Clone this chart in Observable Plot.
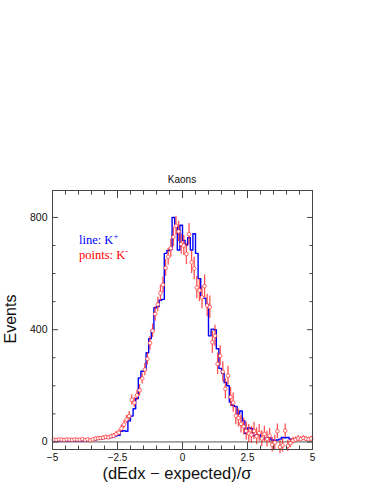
<!DOCTYPE html>
<html><head><meta charset="utf-8">
<script src="https://cdn.jsdelivr.net/npm/d3@7"></script>
<script src="https://cdn.jsdelivr.net/npm/@observablehq/plot@0.6"></script>
<style>html,body{margin:0;padding:0;background:#fff;} #chart{width:374px;height:484px;}</style>
</head><body><div id="chart"></div>
<script>
// Histogram binning: 100 bins of width 0.1 from -5 to 5
const binLow = -5;
const binWidth = 0.1;
// K+ histogram (blue line), counts per bin
const kPlus = [
  3,4,3,4,3,4,3,4,4,3,
  4,4,5,4,6,8,8,9,10,12,
  14,14,16,18,22,24,38,40,38,75,
  92,118,155,228,252,255,318,368,398,478,
  482,505,508,672,682,686,800,770,684,772,
  718,702,728,684,742,672,582,515,512,490,
  378,402,400,332,262,245,212,200,142,130,
  126,100,110,75,30,50,48,22,25,26,
  12,11,15,16,7,6,7,10,16,15,
  16,10,9,11,10,12,10,9,11,10
];
// K- points (red), counts per bin and their errors
const kMinus = [
  8,7,9,8,7,9,8,7,9,8,
  8,10,7,9,6,9,12,13,14,15,
  18,16,20,22,28,33,48,62,80,92,
  150,140,166,184,226,258,296,352,396,456,
  490,530,560,620,660,690,730,770,750,705,
  700,670,740,640,618,550,540,515,555,486,
  480,355,378,278,307,250,189,236,160,140,
  93,85,64,55,39,30,25,39,20,32,
  12,28,10,22,-10,-2,38,-18,-12,40,
  -14,-5,5,8,12,10,14,11,9,12
];
const kMinusErr = [
  3,3,3,4,3,3,4,3,3,4,
  4,4,4,4,4,5,5,5,5,6,
  6,6,7,8,9,10,12,14,15,16,
  18,18,18,20,20,22,22,24,24,26,
  26,28,28,30,30,32,34,34,36,36,
  36,38,38,40,40,40,40,40,40,40,
  40,40,38,38,36,36,36,34,34,34,
  32,32,32,30,32,32,30,30,30,30,
  28,28,28,26,26,26,26,24,24,24,
  20,16,12,10,10,8,8,8,8,8
];
const xMajorTicks = [-5, -2.5, 0, 2.5, 5];
const xTickLabels = ["−5", "−2.5", "0", "2.5", "5"];
const xMinorTicks = [-4.5,-4,-3.5,-3,-2,-1.5,-1,-0.5,0.5,1,1.5,2,3,3.5,4,4.5];
const yMajorTicks = [0, 400, 800];
const yTickLabels = ["0", "400", "800"];
const yMinorTicks = [100, 200, 300, 500, 600, 700];
const titleText = "Kaons";
const xLabel = "(dEdx − expected)/σ";
const yLabel = "Events";

const histPts = kPlus.map((v, i) => ({x: binLow + i * binWidth, y: v}));
histPts.push({x: binLow + kPlus.length * binWidth, y: kPlus[kPlus.length - 1]});
const redPts = kMinus.map((v, i) => ({x: binLow + (i + 0.5) * binWidth, y: v, e: kMinusErr[i]}));

const font = "'Liberation Sans', Arial, Helvetica, sans-serif";
const frameColor = "#444";
const xFmt = d => xTickLabels[xMajorTicks.indexOf(d)];
const yFmt = d => yTickLabels[yMajorTicks.indexOf(d)];
const tickOnly = {fill: "none", stroke: frameColor, label: null};

const plot = Plot.plot({
  width: 374, height: 484,
  marginLeft: 52, marginRight: 62, marginTop: 190, marginBottom: 35,
  style: {fontFamily: font, fontSize: "10px", background: "white", color: "#111"},
  x: {domain: [-5, 5], label: null},
  y: {domain: [-27, 896], label: null},
  marks: [
    Plot.ruleY([0], {stroke: "#555", strokeWidth: 1}),
    Plot.lineY(histPts, {x: "x", y: "y", curve: "step-after", stroke: "#0000ff", strokeWidth: 1.4}),
    Plot.ruleX(redPts, {x: "x", y1: d => d.y - d.e, y2: d => d.y + d.e, stroke: "#ff1a1a", strokeOpacity: 0.75, strokeWidth: 1.3}),
    Plot.dot(redPts, {x: "x", y: "y", r: 1.8, stroke: "#ff3030", strokeOpacity: 0.8, fill: "white", strokeWidth: 0.9}),
    Plot.frame({stroke: frameColor, strokeWidth: 1}),
    // major / minor ticks, pointing inward on all four sides
    Plot.axisX(xMajorTicks, {anchor: "bottom", tickSize: -7, ...tickOnly}),
    Plot.axisX(xMinorTicks, {anchor: "bottom", tickSize: -3.5, ...tickOnly}),
    Plot.axisX(xMajorTicks, {anchor: "top", tickSize: -7, ...tickOnly}),
    Plot.axisX(xMinorTicks, {anchor: "top", tickSize: -3.5, ...tickOnly}),
    Plot.axisY(yMajorTicks, {anchor: "left", tickSize: -6, ...tickOnly}),
    Plot.axisY(yMinorTicks, {anchor: "left", tickSize: -3.5, ...tickOnly}),
    Plot.axisY(yMajorTicks, {anchor: "right", tickSize: -6, ...tickOnly}),
    Plot.axisY(yMinorTicks, {anchor: "right", tickSize: -3.5, ...tickOnly}),
    // tick labels
    Plot.axisX(xMajorTicks, {anchor: "bottom", tickSize: 0, tickPadding: 4, fontSize: 10, tickFormat: xFmt, label: null}),
    Plot.axisY(yMajorTicks, {anchor: "left", tickSize: 0, tickPadding: 5, fontSize: 10.5, tickFormat: yFmt, label: null})
  ]
});

const svg = d3.select(plot);
svg.append("text").attr("x", 182).attr("y", 183).attr("text-anchor", "middle")
  .style("font-family", font).style("font-size", "10px").attr("fill", "#111").text(titleText);
svg.append("text").attr("x", 177).attr("y", 479).attr("text-anchor", "middle")
  .style("font-family", font).style("font-size", "16.5px").attr("fill", "#111").text(xLabel);
svg.append("text").attr("transform", "translate(16,319) rotate(-90)").attr("text-anchor", "middle")
  .style("font-family", font).style("font-size", "16px").attr("fill", "#111").text(yLabel);

const serif = "'Liberation Serif', 'Times New Roman', serif";
const l1 = svg.append("text").attr("x", 79).attr("y", 244).attr("text-anchor", "start")
  .style("font-family", serif).style("font-size", "12.5px").attr("fill", "#0000ff");
l1.append("tspan").text("line: K");
l1.append("tspan").attr("dy", -5).style("font-size", "8.5px").text("+");
const l2 = svg.append("text").attr("x", 79).attr("y", 259).attr("text-anchor", "start")
  .style("font-family", serif).style("font-size", "12.5px").attr("fill", "#ff0000");
l2.append("tspan").text("points: K");
l2.append("tspan").attr("dy", -5).style("font-size", "8.5px").text("-");

document.getElementById("chart").appendChild(plot);
</script>
</body></html>
